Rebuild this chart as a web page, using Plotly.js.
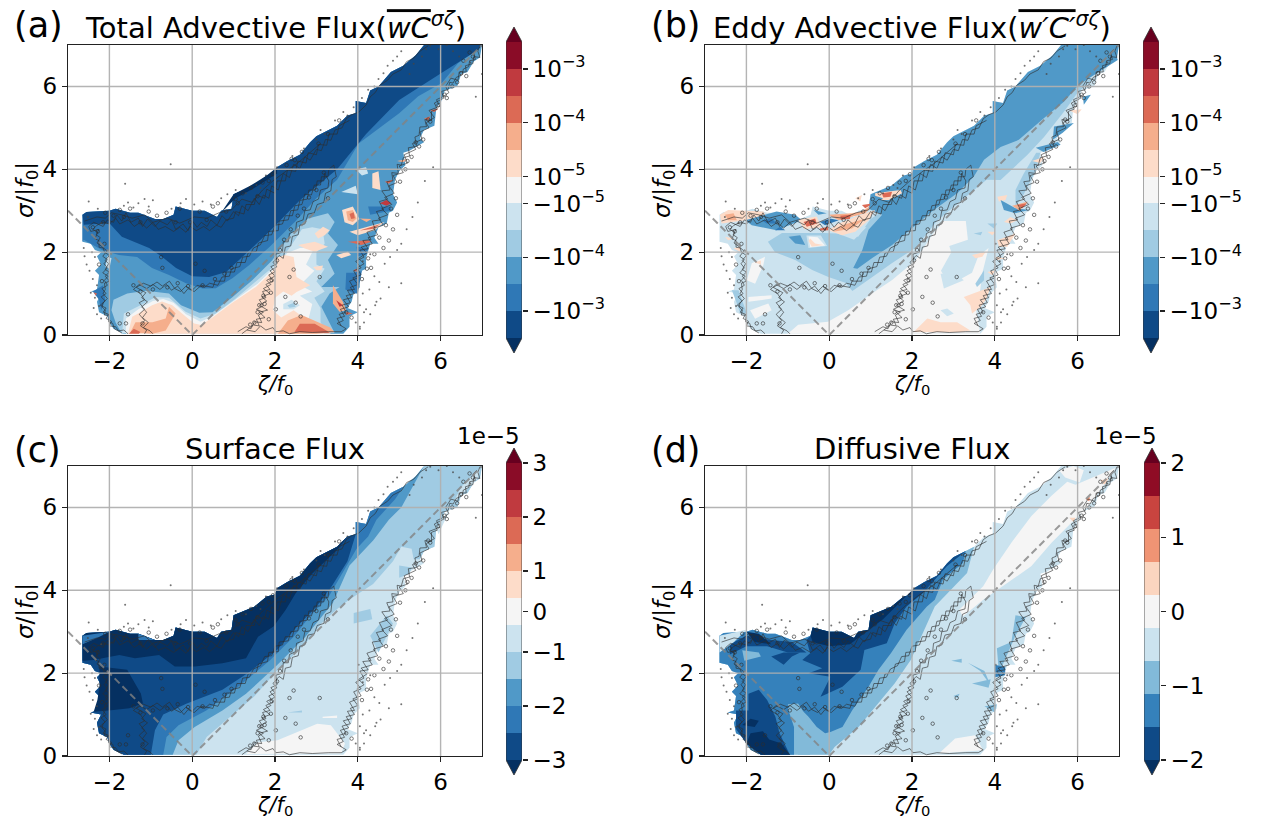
<!DOCTYPE html>
<html><head><meta charset="utf-8">
<script src="https://cdn.plot.ly/plotly-3.0.1.min.js"></script>
<style>html,body{margin:0;padding:0;background:#fff}#c{width:1261px;height:820px}</style></head>
<body><div id="c"></div>
<script>
// ---- colour ramps ----
const ramp11=['#0f4a87','#2f78b6','#5099c8','#a0cbe3','#cce3ef','#f5f5f5','#fddcc9','#f5ae8c','#dc6a55','#c03a3f','#8a0c27'];
const ramp9=['#0f4a87','#3581bb','#82bad9','#cbe3ef','#f5f5f5','#fbd5bf','#f09474','#c9443f','#8f0c25'];
const overColor='#67001f', underColor='#053061';
const U=-1; // "under" level
// ---- tick labels ----
const logTickVals=[1,3,5,6,8,10];
const logTickText=['−10<sup>−3</sup>','−10<sup>−4</sup>','−10<sup>−5</sup>','10<sup>−5</sup>','10<sup>−4</sup>','10<sup>−3</sup>'];
const cTickVals=[0,2,4,5.5,7,9,11]; const cTickText=['−3','−2','−1','0','1','2','3'];
const dTickVals=[0,2.25,4.5,6.75,9]; const dTickText=['−2','−1','0','1','2'];
const xTicks=[-2,0,2,4,6]; const yTicks=[0,2,4,6];

// ---- outline of the sampled (zeta,sigma) domain: x,y pairs, clockwise from the bottom left ----
const domainEdge=[-1.65,.03,-1.9,.15,-2,.3,-2.05,.45,-2.25,.55,-2.3,.8,-2.2,1,-2.45,1.05,-2.3,1.1,-2.25,1.45,-2.35,1.55,-2.2,1.7,-2.3,1.9,-2.2,2,-2.35,2.05,-2.45,2.2,-2.65,2.25,-2.65,2.9,-2.55,2.97,-2,3,-1.85,3.05,-1.5,2.95,-1.3,2.95,-.9,2.8,-.7,2.8,-.45,2.9,-.4,3.1,0,3,.3,3,.6,2.85,.7,3,.95,3.05,1,3.4,1.5,3.6,1.8,3.85,2,3.9,2.05,4.05,2.3,4.2,2.6,4.35,2.85,4.65,3,4.8,3.3,4.95,3.5,5.05,3.75,5.3,3.95,5.35,3.95,5.65,4.2,5.6,4.3,5.9,4.5,6,4.8,6.35,5.1,6.5,5.4,6.75,5.6,7,7,7,6.95,6.7,6.8,6.6,6.65,6.35,6.5,6.3,6.4,6,6.1,5.9,6,5.6,5.9,5.5,5.85,5.05,5.6,4.95,5.5,4.75,5.6,4.65,5.25,4.45,5.1,4.4,5.15,4.1,5,3.95,4.9,3.75,4.85,3.4,4.95,3.2,4.85,3,4.75,2.95,4.7,2.7,4.5,2.6,4.4,2.35,4.5,2.2,4.3,2.2,4.2,1.85,4.2,1.6,4,1.5,4.05,1.15,3.9,1,3.85,.8,3.75,.65,4,.55,3.8,.45,3.8,.2,3.7,.1,3.65,.03];

// ---- panel (a): [level, isBoundaryUpToEdge, x,y pairs] ----
const panelA=[
 [1,1,[-2.62,2.3,-2.18,2.05,-1.77,1.93,-1.33,1.88,-.97,1.62,-.56,1.45,-.15,1.25,.25,1.12,.57,1.13,.97,1.37,1.38,1.69,1.86,2.12,2.5,2.75,3,3.3,3.5,3.75,4.02,4.62,5,5.35,5.46,5.76,6.03,6.08,6.42,6.56,7,6.97]],
 [0,1,[-2.62,2.66,-2,2.7,-1.7,2.37,-1.04,2.1,-.73,1.89,-.39,1.62,0,1.42,.41,1.4,.82,1.52,1.31,1.98,1.86,2.49,2.6,3.25,3.5,4,4.2,4.85,5,5.67,6.03,6.33,6.9,6.88,7,7]],
 [U,0,[.7,2.95,1.05,3.3,1.5,3.55,2.05,3.9,2.05,4.05,1.8,3.85,1.4,3.6,1,3.4,.8,3.1]],
 [3,0,[-1.7,.03,-1.85,.3,-1.95,.6,-1.9,.85,-1.57,1,-1.12,1.07,-.56,1,-.27,.72,.17,.54,.49,.55,.97,.91,1.45,1.32,1.93,1.8,2.39,2.45,2.8,2.81,3.28,2.94,3.44,2.73,3.28,2.45,3.52,2.17,3.44,2.05,3.28,1.81,3.44,1.48,3.12,1.16,3.56,1.16,3.32,1,3.12,.68,3.28,.35,3.44,.05]],
 [4,0,[-1.69,.05,-1.65,.52,-1.25,.72,-.88,.92,-.56,.9,-.16,.56,.2,.4,.57,.52,1.05,.88,1.62,1.36,2.1,1.77,2.35,2.1,2.65,2.55,2.9,2.6,3.15,2.55,3.2,2.2,3,2,3,1.7,3.2,1.6,3,1.3,3.2,1.05,2.95,.9,3.1,.65,3.1,.3,3.3,.05]],
 [5,0,[-1.6,.03,-1.6,.4,-1.3,.62,-.95,.82,-.7,.87,-.45,.78,-.15,.5,.2,.32,.5,.46,1,.83,1.58,1.24,2.08,1.72,2.3,1.98,2.6,2.1,2.95,2.1,2.75,1.7,2.95,1.55,2.6,1.2,2.9,1.05,2.6,.95,2.9,.75,2.8,.35,3.2,.03]],
 [6,0,[-1.55,.03,-1.45,.44,-1.23,.56,-.97,.72,-.73,.81,-.48,.72,-.15,.44,.05,.28,.22,.24,.49,.42,.97,.78,1.55,1.17,2.05,1.65,2.03,1.86,2.23,1.93,2.45,1.88,2.52,1.4,2.85,1.2,2.52,1.04,2.4,.95,2.2,1.05,2,.9,1.95,.6,2.15,.42,2.45,.6,2.65,.45,2.95,.35,3.25,.12,3.35,.03]],
 [4,0,[2.2,.75,2.4,.85,2.6,.72,2.45,.62,2.2,.62]],
 [3,0,[2.3,.72,2.45,.77,2.5,.68,2.35,.66]],
 [7,0,[-1.49,.07,-1.37,.31,-.96,.31,-.64,.4,-.56,.68,-.4,.52,-.64,.11,-.96,.03]],
 [8,0,[-1.53,.03,-1.41,.15,-1.25,.07,-1.29,.03]],
 [7,0,[2.07,.03,2.31,.35,2.64,.48,2.96,.35,3.32,.19,3.44,.07,3,.03]],
 [8,0,[2.47,.07,2.6,.27,2.8,.27,2.96,.27,3.24,.11,3.32,.05]],
 [6,0,[2.96,2.45,3.16,2.61,3.32,2.53,3.2,2.41,3.04,2.33]],
 [6,0,[2.56,2.17,2.96,2.25,3.28,2.13,2.96,2.01,2.72,2.09]],
 [6,0,[3.48,1.93,3.76,2.01,3.84,1.93,3.6,1.85]],
 [6,0,[2.92,1.64,3.16,1.68,3.12,1.56,3,1.56]],
 [6,0,[3.62,3.02,3.88,3.1,4.04,2.8,3.88,2.65,3.68,2.72]],
 [7,0,[3.72,2.98,3.88,3.02,3.97,2.81,3.88,2.73,3.76,2.77]],
 [8,0,[3.8,2.92,3.9,2.96,3.93,2.82,3.84,2.8]],
 [9,0,[4.53,3.18,4.69,3.26,4.81,3.18,4.69,3.12]],
 [6,0,[3.8,2.49,4.33,2.65,4.65,2.73,4.41,2.53,4,2.41]],
 [8,0,[4.05,2.52,4.4,2.63,4.55,2.68,4.35,2.56]],
 [8,0,[3.76,2.25,4.25,2.29,4.33,2.25,4.09,2.17]],
 [7,0,[4.05,2.81,4.33,2.8,4.21,2.73]],
 [7,0,[3.4,1.2,3.52,1,3.64,.8,3.72,.6,3.56,.56,3.4,.76]],
 [9,0,[3.48,.84,3.64,.72,3.56,.68]],
 [8,0,[3.72,.56,3.88,.52,3.72,.48]],
 [8,0,[3.89,1.56,3.97,1.6,3.97,1.52]],
 [8,0,[5.75,5.42,5.95,5.47,5.85,5.38]],
 [8,0,[5.6,5.22,5.75,5.28,5.7,5.18]],
 [7,0,[4.95,4.2,5.2,4.25,5.1,4.17]],
 [8,0,[4.65,3.7,4.85,3.75,4.75,3.65]],
 [6,0,[4.35,3.9,4.5,3.95,4.55,3.5,4.35,3.55]],
 [4,0,[3.6,3.45,3.95,3.6,4,3.4]],
 [4,0,[3.95,4,4.2,4.05,4.25,3.9,4.1,3.85]],
 [1,0,[3.72,1.5,3.9,1.5,4.1,1.55,4,1,3.9,1,3.7,1.1]],
 [1,0,[4.25,3.1,4.8,3.1,4.8,3,4.3,2.9]],
 [1,0,[3.97,2.13,4.25,2.1,4.2,1.95,4,1.9]],
 [1,0,[-2.4,1.05,-2.15,1.2,-2.1,.85,-2.2,.6,-2.25,.85]],
 [4,0,[-2.05,1.9,-1.95,1.85,-2,1.6,-2.1,1.65]],
 [8,0,[-2.38,1.03,-2.3,1,-2.33,.95]]
];

// ---- panel (b) ----
const panelB=[
 [5,0,[-1.87,1.73,-1.55,1.89,-1.59,1.69,-1.79,1.24,-1.99,1.32]],
 [5,0,[-1.95,.92,-1.39,.96,-1.39,.88,-1.95,.8]],
 [5,0,[-1.91,.6,-1.47,.76,-1.39,.6,-1.79,.39]],
 [5,0,[-1,.03,-.75,.25,-.03,.32,.46,.6,1.04,1.01,1.52,1.33,2.08,1.8,2.52,2.46,2.76,2.75,3.3,2.75,3.35,2.3,2.9,2.15,2.95,2,2.7,1.55,2.9,1.2,3.45,1.5,3.6,1.9,3.85,2.1,3.7,1.5,3.65,1.1,3.55,.6,3.65,.03]],
 [3,0,[-1.14,2.46,-1.48,2.25,-1.31,2,-.82,1.81,-.41,1.57,-.02,1.4,.39,1.26,.56,1.06,.94,1.33,1.52,1.74,2.08,2.1,2.6,2.75,3.2,3.25,3.8,3.75,4.14,3.74,4.79,4.35,5.19,4.78,5.67,5.39,6,5.85,6.4,6.2,6.1,6.15,6,6.1,1.3,3,1,2.8,.7,2.37,.22,2.46]],
 [2,1,[1.28,2.9,.95,2.54,.8,2.05,.58,1.62,.68,1.6,1.04,1.86,1.52,2.17,1.72,2.34,2.5,3,3.1,3.43,3.49,3.82,3.74,4.23,4.14,4.54,4.58,4.71,5.19,5.24,5.67,5.63,6.03,6.04,6.97,6.64]],
 [2,0,[-.98,2.37,-.7,2.41,-.58,2.17,-.82,2.21]],
 [4,0,[-.55,2.4,-.2,2.4,-.05,2.15,-.5,2.1]],
 [5,0,[-.5,2.38,-.28,2.36,-.1,2.16,-.46,2.12]],
 [6,0,[-.46,2.33,-.34,2.21,-.14,2.17,-.42,2.13,-.5,2.27]],
 [4,0,[-2.6,2.65,-1.5,2.65,-.6,2.7,.4,2.6,.9,2.6,.6,2.3,.2,2.45,-1.1,2.5,-1.6,2.4,-2.3,2.45]],
 [6,0,[-.02,2.53,.31,2.41,.63,2.49,.95,2.77,1.11,3.02,.87,2.94,.23,2.69]],
 [7,0,[.1,2.49,.55,2.57,.85,2.8,.3,2.65]],
 [6,0,[-2.64,2.9,-2.44,3.02,-1.59,2.98,-1.51,2.85,-2.03,2.77,-2.6,2.69]],
 [7,0,[-2.52,2.9,-2.31,2.94,-2.23,2.77,-2.44,2.77]],
 [2,0,[-2.03,2.77,-1.27,2.98,-.82,2.9,-.66,2.77,-1.27,2.53,-1.87,2.65]],
 [1,0,[-1.63,2.77,-1.39,2.81,-1.27,2.69,-1.51,2.69]],
 [1,0,[-1.31,2.53,-1.19,2.61,-1.06,2.53]],
 [2,0,[-.38,3.02,-.06,2.94,-.26,2.9]],
 [6,0,[-.75,2.78,-.3,2.86,-.2,2.6,-.6,2.55]],
 [8,0,[-.62,2.73,-.34,2.81,-.3,2.69,-.54,2.61]],
 [8,0,[-.22,2.57,-.02,2.61,-.02,2.53,-.22,2.52]],
 [7,0,[-.02,2.9,.55,2.94,.79,2.98,.95,3.1,1.19,3.26,.87,2.94,.23,2.77]],
 [8,0,[.27,2.88,.52,2.9,.5,2.8,.28,2.78]],
 [8,0,[.79,3.14,1.07,3.18,.87,3.06]],
 [1,0,[-.22,2.73,.02,2.81,.23,2.77,-.1,2.65]],
 [6,0,[1.11,3.42,1.72,3.5,1.76,3.42,1.44,3.26,1.11,3.26]],
 [8,0,[1.27,3.42,1.52,3.46,1.48,3.34,1.31,3.32]],
 [6,0,[.63,3.3,.79,3.38,.75,3.22]],
 [2,0,[.95,3.03,1.3,3.3,1.05,3.38]],
 [3,0,[-2.35,1.08,-2.19,1.08,-1.99,.52,-2.15,.52,-2.23,.76]],
 [6,0,[-2.52,2.37,-2.31,2.33,-2.44,2.29]],
 [6,0,[-2.31,2.09,-2.15,2.13,-2.15,2.01]],
 [6,0,[-1.8,1.75,-1.65,1.8,-1.65,1.7]],
 [3,0,[3.49,2.45,3.7,2.49,3.66,2.41]],
 [4,0,[2.69,1.48,3.09,1.48,3.25,1.32,2.77,1.12]],
 [3,0,[3.53,1.24,3.74,1.56,3.74,1.32,3.57,1.16]],
 [4,0,[2.69,.6,2.85,.64,3.01,.52,2.85,.45]],
 [3,0,[3.82,2.69,4.06,2.69,3.98,2.57]],
 [6,0,[3.45,1.93,3.78,2.01,3.7,1.89,3.53,1.85]],
 [6,0,[2.04,.07,2.37,.4,2.69,.31,3.09,.31,3.41,.11,3.17,.07]],
 [6,0,[3.25,.92,3.57,1.04,3.9,1.16,3.78,.84,3.66,.68,3.45,.52,3.41,.72]],
 [6,0,[4.06,3.34,4.3,3.38,4.26,3.26,4.1,3.22]],
 [6,0,[4.38,2.85,4.54,2.77,4.38,2.69,4.22,2.73]],
 [6,0,[3.82,2.49,4.02,2.49,3.94,2.41]],
 [6,0,[4.06,2.29,4.5,2.45,4.3,2.13,4.1,2.13]],
 [6,0,[4.02,1.89,4.26,1.85,4.06,1.81]],
 [6,0,[3.82,1.52,4.02,1.56,3.94,1.44]],
 [3,0,[4.5,3.1,4.7,3.4,5,4,5.1,4.4,5,4.4,4.7,3.9,4.5,3.5]],
 [2,0,[4.14,3.26,4.5,3.06,4.83,3.02,4.5,2.94,4.22,3.02]],
 [7,0,[4.42,3.12,4.8,3.22,4.6,3]],
 [8,0,[4.54,3.14,4.78,3.18,4.66,3.06]],
 [6,0,[4.9,4.2,5.2,4.3,5.1,4.15]],
 [6,0,[5.8,5.42,6.1,5.45,6,5.33]],
 [2,0,[5.43,5.03,5.91,5.12,5.64,4.88,5.4,4.71]],
 [2,0,[4.99,4.52,5.52,4.66,5.59,4.59,5.18,4.42]],
 [2,0,[6.13,5.75,6.32,5.8,6.15,5.56]]
];

// ---- panel (c) ----
const panelC=[
 [3,1,[.1,.03,.35,.46,.82,.86,1.49,1.43,2.06,2.07,2.73,2.71,3.12,3.2,3.5,3.55,3.8,3.78,4.37,4.15,4.85,4.7,5.05,5.05,5.3,5,5.35,4.75,5.5,4.75]],
 [4,0,[5.95,5.35,6.2,5.9,6.5,6.5,6.95,6.95,6.9,6.7,6.6,6.4,6.3,6.1,6.05,5.7,5.9,5.5]],
 [2,1,[-.47,.03,-.33,.38,.06,.7,.73,1.1,1.3,1.5,2.06,2.2,2.73,2.87,3.2,3.45,3.4,3.7,3.8,4.6,4.37,5.2,4.75,5.7,5.05,6,5.6,7]],
 [1,1,[-.7,.03,-.62,.46,-.33,.74,.34,1.1,1.11,1.67,1.88,2.31,2.45,2.88,2.84,3.37,3.31,3.87,3.6,4.36,3.97,5,4.25,5.3,4.45,5.7,4.9,6.2,5.1,6.5]],
 [0,1,[-1,.03,-.9,.62,-.7,1,-.13,1.27,.73,1.6,1.4,2.04,2.06,2.57,2.54,3.13,3,3.6,3.37,4.1,3.75,4.7,3.95,5.35]],
 [U,1,[-2.65,2.3,-2.39,2.32,-1.76,2.44,-1.38,2.36,-.8,2.44,-.42,2.16,.06,2.16,.73,2.24,1.3,2.36,1.59,2.88,1.97,3.13,2.26,3.53,2.5,3.93,2.88,4.38,3.5,4.98,3.75,5.3]],
 [U,0,[-2.24,2.16,-1.95,2.12,-1.57,2.08,-1.38,1.75,-1.24,1.51,-1.19,1.27,-1.52,1.15,-1.9,1.11,-2.38,1.07,-2.29,1.35,-2.24,1.67]],
 [1,0,[-2.65,2.9,-2,3,-2.3,2.85,-2.65,2.7]],
 [1,0,[-1.3,2.95,-.9,2.8,-1.3,2.8]],
 [5,0,[1.3,.05,1.59,.33,2.06,.38,3.02,.78,3.35,.74,3.69,.3,3.6,.06]],
 [3,0,[3.9,3.45,4.3,3.55,4.35,3.3,3.9,3.2]],
 [3,0,[4.3,2.9,4.7,3.4,4.85,3.2,4.5,2.5]],
 [3,0,[5,4.6,5.3,4.55,5.25,4.4,5,4.3]],
 [3,0,[2.3,1.05,2.65,1.1,2.65,1.05]],
 [5,0,[3.15,.95,3.5,.98,3.5,.92,3.15,.92]]
];

// ---- panel (d) ----
const panelD=[
 [4,0,[3.14,3.53,3.72,4.1,3.96,4.5,4.4,5.15,4.88,5.79,5.37,6.28,5.75,6.62,5.95,6.55,6.92,6.96,6.34,6.11,5.85,5.63,5.37,5.15,4.88,4.58,4.3,4.18,3.72,3.77,3.23,3.37]],
 [4,0,[2.65,.06,3.04,.42,3.52,.5,3.72,.14]],
 [4,0,[5.55,6.9,5.9,7,6.15,6.9,6.05,6.6,5.7,6.72]],
 [2,1,[0,.03,.13,.22,.71,.7,1.19,1.27,1.58,1.75,1.97,2.32,2.41,3.29,2.55,3.61,2.94,4.01,3.33,4.42,3.5,5.05]],
 [1,1,[-.85,.03,-.85,.7,-1,1.15,-.75,1.2,-.5,.95,-.3,.7,-.1,.55,.03,.58,.32,.7,.56,1.11,.95,1.67,1.19,2.08,1.49,2.48,1.87,3.05,2.36,3.61,2.55,3.77,2.75,4.26,3.23,4.66,3.3,4.95]],
 [2,0,[-1,1.25,-.75,1.27,-.55,.95,-.45,.5,-.46,.03,-.75,.03,-.8,.4,-.85,.9]],
 [0,1,[-.55,2.8,-.46,2.48,-.65,2.32,-.17,2.12,-.5,2,.03,1.91,-.21,1.43,.32,1.67,.76,2.08,.85,2.56,1.39,2.72,1.58,3.2,1.87,3.61,2.26,3.93,2.84,4.58,3.3,4.95]],
 [U,1,[-.4,2.75,0,2.65,.5,2.7,.9,3,1.3,3.3,1.7,3.7,2.05,4.05]],
 [0,0,[-2.25,.65,-2.25,1.1,-1.95,1.1,-1.95,1.5,-1.7,1.6,-1.5,1.35,-1.3,.95,-1.2,.55,-.95,.03,-1.65,.03,-2,.3]],
 [U,0,[-2,.3,-1.9,.55,-1.6,.6,-1.45,.4,-1.15,.3,-.95,.03,-1.65,.03]],
 [U,0,[-2.1,.75,-1.9,.9,-1.7,.85,-1.8,.7]],
 [2,0,[-2.1,2.55,-1.7,2.5,-1.65,2.4,-2.05,2.3]],
 [0,0,[-2.4,2.7,-2,2.9,-1.4,2.8,-.9,2.75,-.55,2.5,-1,2.5,-1.5,2.65,-2,2.65,-2.4,2.45]],
 [0,0,[-1.4,2.4,-1.1,2.2,-.9,2.4,-.7,2.5,-1.1,2.5]],
 [U,0,[-2,3,-1.7,2.95,-1.4,2.7,-1.8,2.75]],
 [3,0,[-2.65,2.9,-2,3.05,-2.3,2.75,-2.6,2.55,-2.65,2.5]],
 [2,0,[2.95,2.3,3.2,2.35,3.2,2.25]],
 [2,0,[3.35,2.25,3.75,2.05,3.9,1.7,3.65,2.05]],
 [2,0,[3.45,1.75,3.9,1.85,3.85,1.65]],
 [2,0,[4.05,2.6,4.4,2.75,4.5,3.4,4.75,3.35,4.5,2.9,4.2,2.2,4.1,2]],
 [1,0,[4,2.2,4.25,2.15,4.25,1.95,4,1.9]],
 [2,0,[3.75,1.2,4.05,1.25,4,1.05]],
 [2,0,[3,1.45,3.15,1.5,3.1,1.4]],
 [5,0,[6.55,6.65,6.75,6.7,6.65,6.55]],
 [6,0,[6.2,6.2,6.3,6.25,6.28,6.15]],
 [5,0,[5.8,5.75,5.95,5.75,5.9,5.65]]
];

// ---- the density contour (same curve in all panels) ----
const contourMain=[-1.55,.03,-1.65,.12,-1.78,.1,-1.85,.2,-2,.22,-1.95,.33,-2.08,.4,-2.02,.5,-2.15,.55,-2.08,.65,-2.22,.72,-2.1,.82,-2.2,.92,-2.08,1,-2.18,1.12,-2.05,1.2,-2.12,1.32,-2.03,1.42,-2.16,1.5,-2.05,1.62,-2.13,1.72,-2.05,1.82,-2.16,1.9,-2.06,2.03,-2.2,2.15,-2.3,2.22,-2.22,2.35,-2.32,2.42,-2.25,2.55,-2.45,2.5,-2.5,2.62,-2.38,2.72,-2.15,2.62,-2.05,2.78,-1.9,2.72,-1.82,2.9,-1.7,2.75,-1.6,2.95,-1.48,2.72,-1.3,2.82,-1.2,2.62,-1.08,2.8,-.9,2.62,-.78,2.75,-.6,2.66,-.5,2.78,-.4,2.55,-.22,2.68,-.1,2.52,0,2.76,.12,2.6,.22,2.72,.36,2.62,.45,2.78,.6,2.65,.72,2.88,.85,2.75,1,2.98,1.12,2.88,1.2,3.12,1.35,3,1.5,3.3,1.62,3.15,1.72,3.38,1.85,3.3,1.92,3.6,2.08,3.5,2.2,3.9,2.35,3.8,2.45,4.12,2.6,4.02,2.72,4.3,2.85,4.22,3,4.48,3.12,4.45,3.22,4.72,3.35,4.7,3.45,4.95,3.62,5,3.72,5.22,3.86,5.32,4.02,5.38,4.2,5.55,4.3,5.75,4.42,5.85,4.52,6.02,4.72,6.15,4.85,6.3,5.05,6.4,5.18,6.6,5.35,6.68,5.5,6.85,5.7,6.98];
const contourRight=[6.95,6.98,6.9,6.85,6.95,6.7,6.8,6.72,6.78,6.55,6.6,6.5,6.62,6.35,6.45,6.35,6.42,6.15,6.25,6.2,6.12,6,6.2,5.85,6.05,5.75,5.9,5.68,5.98,5.52,5.72,5.42,5.85,5.25,5.65,5.12,5.72,5,5.5,4.9,5.55,4.72,5.32,4.62,5.4,4.48,5.12,4.35,5.2,4.15,5,4.08,5.1,3.92,4.85,3.85,4.95,3.68,4.75,3.6,4.88,3.42,4.65,3.32,4.82,3.15,4.58,3.05,4.72,2.9,4.5,2.82,4.62,2.65,4.38,2.58,4.48,2.42,4.25,2.35,4.35,2.2,4.08,2.12,4.22,1.98,4.02,1.85,4.15,1.72,3.98,1.62,4.08,1.45,3.88,1.38,4,1.22,3.82,1.15,3.92,1,3.72,.95,3.82,.78,3.62,.72,3.72,.55,3.55,.5,3.65,.35,3.5,.28,3.72,.15,3.6,.08,3.3,.08,2.9,.06,2.6,.08,2.35,.03,2.2,.1,2.02,.08,1.95,.18,1.78,.12,1.65,.22,1.52,.08,1.32,.12,1.2,.03];
const contourInner=[1.32,.12,1.48,.24,1.62,.22,1.55,.38,1.76,.42,1.62,.55,1.82,.6,1.62,.72,1.8,.82,1.68,.92,1.88,1,1.72,1.12,1.9,1.22,1.8,1.32,2,1.42,1.88,1.55,2.05,1.65,1.95,1.75,2.1,1.92,2.2,1.85,2.25,2.12,2.38,2.15,2.42,2.38,2.56,2.42,2.6,2.65,2.72,2.68,2.8,2.92,2.95,2.95,3.02,3.15,3.18,3.2,3.22,3.42,3.35,3.48,3.38,3.75,3.48,3.82,3.42,4.1,3.3,4,3.28,3.82,3.12,3.82,3.1,3.62,2.95,3.62,2.88,3.38,2.72,3.4,2.65,3.15,2.48,3.12,2.42,2.88,2.25,2.88,2.18,2.68,2,2.65,1.92,2.42,1.75,2.4,1.65,2.18,1.48,2.1,1.38,1.9,1.22,1.88,1.15,1.65,.95,1.6,.9,1.42,.72,1.4,.62,1.2,.42,1.25,.3,1.15,.12,1.2,0,1.08,-.15,1.18,-.28,1.05,-.42,1.12,-.55,1.3,-.72,1.18,-.85,1.28,-1,1.18,-1.18,1.25,-1.35,1.15,-1.12,1.02,-1.22,.9,-1.08,.8,-1.22,.68,-1.1,.55,-1.2,.42,-1.06,.3,-1.18,.18,-1.02,.1,-.95,.03];
const contourTop2=[-2.6,2.75,-2.3,2.85,-2.1,2.82,-1.95,2.95,-1.7,2.9,-1.45,2.82,-1.15,2.9,-.95,2.72,-.6,2.82,-.3,2.7,.05,2.85,.35,2.82,.65,2.95,.95,3.02,1.2,3.28,1.45,3.2,1.7,3.5,1.95,3.72,2.3,3.98,2.55,4.15,2.9,4.45,3.1,4.62];
const contourRight2=[6.88,6.9,6.8,6.82,6.84,6.65,6.7,6.62,6.68,6.48,6.55,6.42,6.52,6.28,6.38,6.22,6.3,6.08,6.22,6.1,6.18,5.92,6.02,5.88,6.08,5.72,5.85,5.6,5.92,5.45,5.78,5.4,5.78,5.18,5.62,5.2,5.66,5.03,5.5,5.02,5.48,4.82,5.38,4.78,5.42,4.55,5.22,4.52,5.25,4.32,5.1,4.28,5.05,4.1,4.95,4.12,4.98,3.9,4.82,3.92,4.85,3.72,4.7,3.7,4.78,3.5,4.58,3.48,4.72,3.28,4.52,3.22,4.62,3.02,4.45,2.98,4.55,2.78,4.35,2.75,4.42,2.55,4.22,2.48,4.32,2.3,4.12,2.28,4.25,2.08,4.05,2.05,4.15,1.88,3.95,1.78,4.08,1.62,3.9,1.55,4,1.38,3.8,1.3,3.92,1.1,3.75,1.08,3.85,.9,3.65,.85,3.78,.68,3.58,.62,3.68,.45,3.5,.4,3.6,.22];
const contourInner2=[1.1,.08,1.3,.2,1.42,.15,1.5,.32,1.68,.3,1.6,.48,1.72,.55,1.55,.62,1.72,.7,1.62,.85,1.78,.9,1.7,1.05,1.88,1.1,1.78,1.22,1.95,1.3,1.85,1.45,2,1.52,1.9,1.65,2.05,1.72,2.02,1.95,2.18,2,2.2,2.25,2.32,2.25,2.35,2.45,2.5,2.52,2.52,2.72,2.68,2.78,2.72,3,2.85,3.02,2.92,3.22,3.05,3.28,3.1,3.5,3.28,3.55,3.3,3.72,3.2,3.9,3.18,3.72,3.02,3.72,2.98,3.5,2.82,3.5,2.78,3.28,2.6,3.25,2.55,3.02,2.38,3,2.32,2.78,2.1,2.75,2.08,2.52,1.85,2.5,1.82,2.28,1.6,2.22,1.55,2.02,1.35,1.98,1.28,1.75,1.08,1.75,1.02,1.52,.82,1.52,.78,1.3,.55,1.3,.5,1.15,.22,1.2,.05,1.05,-.1,1.12,-.2,1,-.35,1.18,-.5,1.08,-.62,1.22,-.78,1.1,-.95,1.22,-1.1,1.12,-1.28,1.22,-1.42,1.1,-1.25,1,-1.15,.85,-1.28,.78,-1.15,.62,-1.28,.5,-1.15,.35,-1.25,.22,-1.1,.12,-1.15,.03];
const contourLeft2=[-1.7,.05,-1.88,.15,-1.92,.28,-2.02,.32,-2,.48,-2.12,.48,-2.1,.6,-2.18,.68,-2.15,.78,-2.05,.88,-2.15,1,-2.1,1.1,-2.12,1.25,-2,1.3,-2.1,1.42,-2,1.52,-2.1,1.58,-2.02,1.72,-2.1,1.8,-2,1.92,-2.12,2,-2.15,2.1,-2.25,2.12,-2.25,2.28,-2.35,2.32,-2.28,2.48,-2.4,2.55,-2.3,2.65,-2.15,2.72,-2,2.68,-1.85,2.82,-1.75,2.68,-1.55,2.78,-1.4,2.62,-1.25,2.72,-1.1,2.58,-.95,2.72,-.82,2.55,-.65,2.62,-.45,2.5,-.3,2.6,-.15,2.48,-.05,2.62,.1,2.52,.28,2.62,.42,2.52,.58,2.65,.7,2.6,.82,2.78,1,2.82,1.05,2.98,1.25,2.92,1.3,3.15,1.5,3.15,1.55,3.38,1.75,3.3,1.8,3.52,2,3.42,2.05,3.72,2.25,3.72,2.3,3.98,2.5,3.95,2.55,4.2,2.75,4.15,2.8,4.4,3,4.35,3.05,4.6,3.25,4.58,3.3,4.85,3.5,4.85,3.55,5.05,3.8,5.18];
const contourBlobX=[-2.1,-1.75,-1.5,-1.05,-.62,-.3,.18,.5,.62,1.05,1.22,1.42,1.7,1.95,2.28,2.48,3.05,3.28,2.02,1.62,1.9,2.25,2.5,2.62,1.85,1.72,2.35,2.45,3.08,-.75,.08,.3,-.72,-1.42,-1.75,-1.6,-1.2,-1.55,4.25,4.32,4.62,4.75,4.85,4.95,3.85,3.72,5.2,5.48,5.75,6.15,6.4,6.62,6.55,6.7,1.4,1.58,1.75,1.5,1.92,2.05,2.12,2.22,2.38,2.55,2.7,2.82,3,3.18,3.28,.95,.78,.55,.25,-.1,-.35,-.6,-.95,-1.25,-2.18,-2.25,-2.12,-2.28,-2.4,-2.15,-1.9,-1.65,-1.25,-.85,-.4,-.05,.35,.82,1.1,1.58,1.85,2.4,2.65,3.55,4.1,4.22,4.4,4.52,4.68,4.8,4.92,5.02,5.15,5.3,5.4,5.58,5.7,5.95,6.1,6.28,6.5,6.78];
const contourBlobY=[2.95,3.02,3.05,2.98,2.95,3.05,2.98,3.1,3.18,3.28,3.42,3.55,3.68,3.88,4.1,4.22,4.62,4.85,.62,.72,1.02,.92,.78,.45,.38,.95,1.4,1.58,1.4,1.88,1.72,1.55,1.62,1.2,.28,.28,.28,.5,1.85,1.62,2.1,2.28,2.55,2.9,.42,.55,4.2,4.55,5.15,5.72,6.1,6.25,6.62,6.82,.25,.55,.75,.3,1.32,1.8,2.05,2.3,2.55,2.88,3.05,3.32,3.5,3.92,3.3,1.62,1.48,1.35,1.2,1.18,1.25,1.15,1.1,1.05,1.3,1.7,2.2,2.5,2.6,2.72,2.88,2.85,2.72,2.88,2.72,2.72,2.78,2.98,3.18,3.35,3.72,4.25,4.42,5.18,1.35,1.6,1.95,2.35,2.65,3.05,3.3,3.7,4,4.3,4.65,4.72,5.2,5.55,5.8,6,6.32,6.72];
const scatterX=[-2.5,-2.62,-2.42,-2.35,-2.55,-2.48,-2.4,-2.3,-2.45,-2.35,-2.6,-2.25,-2.38,-2.3,-2.2,-1.65,-1.55,-1.42,-1.3,-1.15,-1.05,-.95,-.5,-.28,-.15,.05,.25,.45,.7,.85,1.05,1.3,1.55,1.65,1.78,2.05,2.42,2.7,3,3.1,3.2,3.45,3.65,3.75,3.9,4.1,4.25,4.4,4.5,4.62,4.72,4.85,4.95,5.05,5.25,5.35,5.55,5.65,5.75,5.95,6.15,6.3,6.45,6.72,7,6.85,4.05,4.15,4.3,4.42,4.55,4.12,4.28,4.52,4.4,4.65,4.78,4.95,5.05,5.18,5.32,5.45,5.62,5.82,5.05,4.75,4.05,4.2,4.45,4.12,4.02,3.95,4.05,4.15,4.3,-.52,-1.62,-2.28,-2.52,-2.2];
const scatterY=[3.22,2.1,2,1.88,1.7,1.55,1.35,1.2,1.02,.9,1.9,.7,.65,.5,.4,3.12,3.2,3.08,3.18,3.28,3.1,3.25,3.05,3.18,3.28,3.15,3.22,3.15,3.3,3.4,3.5,3.42,3.62,3.55,3.85,4.05,4.32,4.5,4.72,4.95,4.85,5.18,5.38,5.3,5.5,5.72,5.92,6,6.18,6.32,6.5,6.62,6.72,6.85,6.3,6.55,6.72,6.9,6.98,6.9,7,6.85,6.72,6.58,6.3,5.75,.15,.3,.5,.72,.88,1,1.1,1.28,1.42,1.72,1.88,2.05,2.2,2.55,2.85,3.2,3.72,4.05,1.25,1.15,.2,.62,.8,1.78,2.2,.3,.72,.55,1.95,4.12,3.65,3.05,2.85,2.7];

// ---- layout boxes ----
const plotBoxes=[[68,482,45,335],[705,1119,45,335],[68,482,466,756],[705,1119,466,756]];
const barBoxes=[[506,522,27,353],[1143,1159,27,353],[506,522,448,775],[1144,1160,448,775]];
const W=1261,H=820;
const pairs=a=>{const p=[];for(let i=0;i<a.length;i+=2)p.push([a[i],a[i+1]]);return p;};
const edge=pairs(domainEdge);
const nearest=p=>{let b=0,bd=1e9;edge.forEach((e,i)=>{const d=(e[0]-p[0])**2+(e[1]-p[1])**2;if(d<bd){bd=d;b=i;}});return b;};
function region(flag,arr){
  const p=pairs(arr);
  if(!flag)return p;
  const i=nearest(p[0]),j=nearest(p[p.length-1]);
  const out=p.slice();
  for(let k=j;k>=i;k--)out.push(edge[k]);
  return out;
}
const traces=[];
const shapes=[];
const annotations=[];
const layout={width:W,height:H,margin:{l:0,r:0,t:0,b:0},paper_bgcolor:'#fff',plot_bgcolor:'#fff',showlegend:false,
  font:{family:'DejaVu Sans',size:23,color:'#000'},hovermode:false,shapes,annotations};
const panels=[panelA,panelB,panelC,panelD];
const ramps=[ramp11,ramp11,ramp11,ramp9];
const bases=[2,4,4,3];
const contourInk='rgba(45,45,45,0.62)';
const titles=['Total Advective Flux(<span style="text-decoration:overline"><i>wC</i></span><sup><i>σζ</i></sup>)',
  "Eddy Advective Flux(<span style=\"text-decoration:overline\"><i>w′C′</i></span><sup><i>σζ</i></sup>)",'Surface Flux','Diffusive Flux'];
const letters=['(a)','(b)','(c)','(d)'];
const bandCounts=[11,11,11,9];
const barTickVals=[logTickVals,logTickVals,cTickVals,dTickVals];
const barTickText=[logTickText,logTickText,cTickText,dTickText];

panels.forEach((pan,idx)=>{
  const n=idx+1, sx=n===1?'':n, xa='x'+sx, ya='y'+sx;
  const [L,R,T,B]=plotBoxes[idx];
  const ramp=ramps[idx];
  const colorOf=l=>l===U?underColor:ramp[l];
  const poly=(pts,col)=>traces.push({type:'scatter',mode:'lines',xaxis:xa,yaxis:ya,x:pts.map(p=>p[0]),y:pts.map(p=>p[1]),fill:'toself',fillcolor:col,line:{width:0,color:col},hoverinfo:'skip'});
  poly(edge,colorOf(bases[idx]));
  pan.forEach(r=>poly(region(r[1],r[2]),colorOf(r[0])));
  const axisCommon={showgrid:false,zeroline:false,showline:true,mirror:true,linecolor:'#222',linewidth:1.3,ticks:'outside',ticklen:5,tickwidth:1.2,tickcolor:'#222',tickfont:{size:23,family:'DejaVu Sans'}};
  layout['xaxis'+sx]=Object.assign({},axisCommon,{domain:[L/W,R/W],range:[-3,7],anchor:ya,tickvals:xTicks,ticktext:xTicks.map(v=>String(v).replace('-','−'))});
  layout['yaxis'+sx]=Object.assign({},axisCommon,{domain:[1-B/H,1-T/H],range:[0,7],anchor:xa,tickvals:yTicks,title:{text:'<i>σ</i>/|<i>f</i><sub>0</sub>|',standoff:2,font:{size:23,family:'DejaVu Sans'}}});
  annotations.push({xref:'paper',yref:'paper',x:(L+R)/2/W,y:1-(B+50)/H,text:'<i>ζ/f</i><sub>0</sub>',showarrow:false,xanchor:'center',yanchor:'middle',font:{size:21,family:'DejaVu Sans'}});
  // density contour + stray dots
  [contourMain,contourRight,contourInner,contourTop2,contourRight2,contourInner2,contourLeft2].forEach(c=>{
    const p=pairs(c);
    traces.push({type:'scatter',mode:'lines',xaxis:xa,yaxis:ya,x:p.map(q=>q[0]),y:p.map(q=>q[1]),line:{color:contourInk,width:1},hoverinfo:'skip'});
  });
  traces.push({type:'scatter',mode:'markers',xaxis:xa,yaxis:ya,x:contourBlobX,y:contourBlobY,marker:{symbol:'circle-open',size:3.5,color:contourInk,line:{width:1,color:contourInk}},hoverinfo:'skip'});
  traces.push({type:'scatter',mode:'markers',xaxis:xa,yaxis:ya,x:scatterX,y:scatterY,marker:{symbol:'circle',size:2,color:'rgba(70,70,70,0.75)'},hoverinfo:'skip'});
  // grid and reference lines on top of the fill
  xTicks.forEach(v=>shapes.push({type:'line',layer:'above',xref:xa,yref:ya,x0:v,x1:v,y0:0,y1:7,line:{color:'rgba(176,176,176,0.95)',width:1.4}}));
  yTicks.slice(1).forEach(v=>shapes.push({type:'line',layer:'above',xref:xa,yref:ya,x0:-3,x1:7,y0:v,y1:v,line:{color:'rgba(176,176,176,0.95)',width:1.4}}));
  traces.push({type:'scatter',mode:'lines',xaxis:xa,yaxis:ya,x:[-3,0,7],y:[3,0,7],line:{color:'rgba(130,130,130,0.8)',width:2,dash:'7px,4px'},hoverinfo:'skip'});
  // text
  const titleY=idx<2?26:449;
  annotations.push({xref:'paper',yref:'paper',x:(L+R)/2/W,y:1-titleY/H,text:titles[idx],showarrow:false,xanchor:'center',yanchor:'middle',font:{size:29,family:'DejaVu Sans'}});
  annotations.push({xref:'paper',yref:'paper',x:(L-56)/W,y:1-(idx<2?25:450)/H,text:letters[idx],showarrow:false,xanchor:'left',yanchor:'middle',font:{size:35,family:'DejaVu Sans'}});
  // colour bar
  const m=5+n-1+0, bsx=m, bxa='x'+bsx, bya='y'+bsx;
  const [bl,br,bt,bb]=barBoxes[idx];
  const N=bandCounts[idx];
  const tip=15;
  const bandPx=(bb-bt-2*tip)/N;
  const tipU=tip/bandPx;
  const ys=[],zs=[];
  for(let i=0;i<N;i++){ys.push(i+.5);zs.push([i]);}
  const cs=[];ramp.forEach((c,i)=>{cs.push([i/N,c]);cs.push([(i+1)/N,c]);});
  traces.push({type:'heatmap',xaxis:bxa,yaxis:bya,x:[.5],y:ys,z:zs,zmin:-.5,zmax:N-.5,colorscale:cs,showscale:false,hoverinfo:'skip'});
  traces.push({type:'scatter',mode:'lines',xaxis:bxa,yaxis:bya,x:[0,.5,1,0],y:[N,N+tipU,N,N],fill:'toself',fillcolor:overColor,line:{width:0},hoverinfo:'skip'});
  traces.push({type:'scatter',mode:'lines',xaxis:bxa,yaxis:bya,x:[0,.5,1,0],y:[0,-tipU,0,0],fill:'toself',fillcolor:underColor,line:{width:0},hoverinfo:'skip'});
  traces.push({type:'scatter',mode:'lines',cliponaxis:false,xaxis:bxa,yaxis:bya,x:[0,.5,1,1,.5,0,0],y:[0,-tipU,0,N,N+tipU,N,0],line:{color:'rgba(50,50,50,0.8)',width:1},hoverinfo:'skip'});
  layout['xaxis'+bsx]={domain:[bl/W,br/W],range:[0,1],visible:false,anchor:bya,fixedrange:true};
  layout['yaxis'+bsx]={domain:[1-bb/H,1-bt/H],range:[-tipU,N+tipU],anchor:bxa,side:'right',showgrid:false,zeroline:false,showline:false,ticks:'outside',ticklen:5,tickwidth:1.2,tickcolor:'#222',tickvals:barTickVals[idx],ticktext:barTickText[idx],tickfont:{size:23,family:'DejaVu Sans'},fixedrange:true};
  if(idx>=2) annotations.push({xref:'paper',yref:'paper',x:(bl+16+(idx===3?-1:0))/W,y:1-436/H,text:'1e−5',showarrow:false,xanchor:'right',yanchor:'middle',font:{size:23,family:'DejaVu Sans'}});
});
Plotly.newPlot('c',traces,layout,{displayModeBar:false,staticPlot:true});
</script></body></html>
